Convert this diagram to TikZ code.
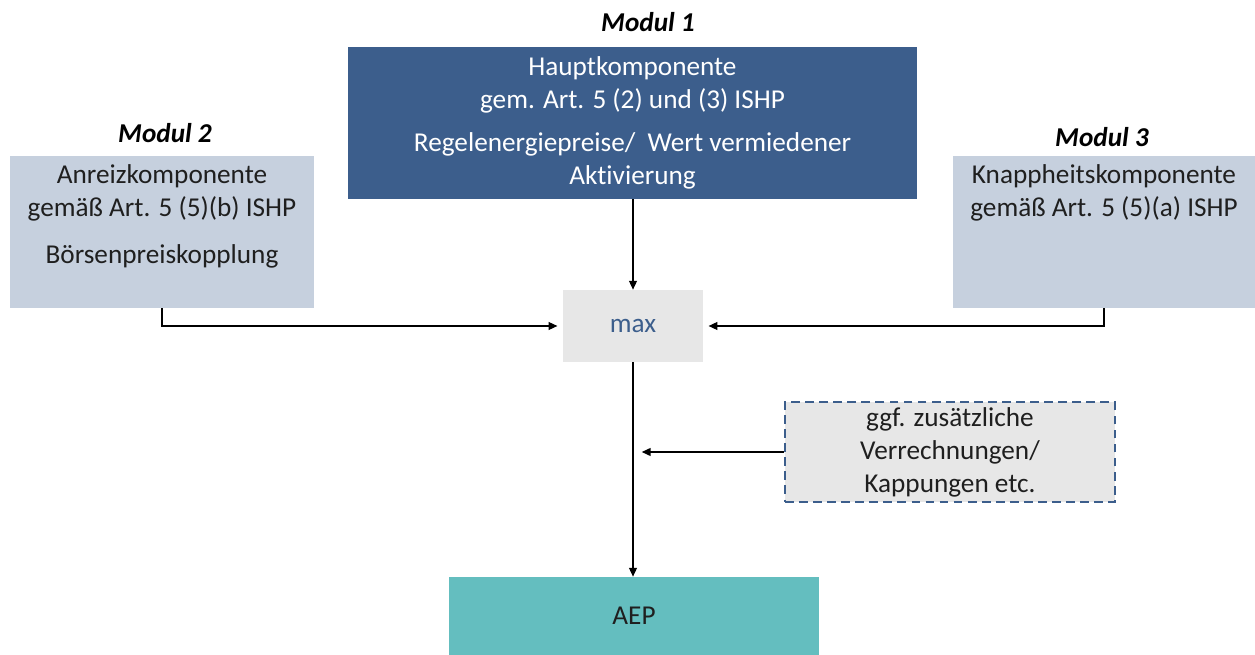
\documentclass[tikz,border=0pt]{standalone}
\usepackage{fontspec}
\setmainfont{Carlito}[Ligatures=NoCommon]
\usepackage{xcolor}
\usetikzlibrary{arrows.meta,positioning}
\definecolor{modulblue}{HTML}{3C5E8C}
\definecolor{modullight}{HTML}{C6D0DE}
\definecolor{maxgray}{HTML}{E7E7E7}
\definecolor{aepteal}{HTML}{64BEBF}
\definecolor{textdark}{HTML}{1F1F1F}

\begin{document}
\begin{tikzpicture}[x=0.02cm, y=-0.02cm,
  box/.style={inner sep=0pt, font=\fontsize{15.5}{18.8}\selectfont, text=textdark},
  titel/.style={font=\fontsize{15.5}{17}\selectfont\bfseries\itshape, text=black},
  pfeil/.style={draw=black, line width=0.7pt, -{Triangle[length=5pt,width=4.5pt]}}]
\useasboundingbox (0,0) rectangle (1255,655);
% Module oben
\node[box, fill=modulblue, text=white, minimum width=11.38cm, minimum height=3.04cm, align=center]
  (m1) at (632.5,123) {Hauptkomponente\\gem. Art. 5 (2) und (3) ISHP\\[6pt]Regelenergiepreise/\ \ Wert vermiedener\\Aktivierung};
\node[box, fill=modullight] (m2) at (162,232)
  {\parbox[c][3.04cm][t]{6.08cm}{\centering\vspace{5pt}Anreizkomponente\\gemäß Art. 5 (5)(b) ISHP\\[8pt]Börsenpreiskopplung}};
\node[box, fill=modullight] (m3) at (1104,232)
  {\parbox[c][3.04cm][t]{6.04cm}{\centering\vspace{5pt}Knappheitskomponente\\gemäß Art. 5 (5)(a) ISHP}};
\node[titel] (t1) at (648,22) {Modul 1};
\node[titel] (t2) at (165,133) {Modul 2};
\node[titel] (t3) at (1102,137) {Modul 3};
% max, Verrechnungen, AEP
\node[box, fill=maxgray, text=modulblue, minimum width=2.8cm, minimum height=1.44cm] (max) at (633,326) {max};
\node[box, fill=maxgray, draw=modulblue, dashed, line width=0.7pt, dash pattern=on 5pt off 3pt,
  minimum width=6.6cm, minimum height=2cm, align=center] (verr) at (950,452)
  {ggf. zusätzliche\\Verrechnungen/\\Kappungen etc.};
\node[box, fill=aepteal, minimum width=7.4cm, minimum height=1.56cm] (aep) at (634,616) {AEP};
\coordinate (join) at (max.south |- verr.west);
% Verbindungen
\draw[pfeil] (max.north |- m1.south) -- (max.north);
\draw[pfeil, shorten >=3pt] (m2.south) |- (max.west);
\draw[pfeil, shorten >=3pt] (m3.south) |- (max.east);
\draw[pfeil] (max.south) -- (max.south |- aep.north);
\draw[pfeil, shorten >=5pt] (verr.west) -- (join);
\end{tikzpicture}
\end{document}
